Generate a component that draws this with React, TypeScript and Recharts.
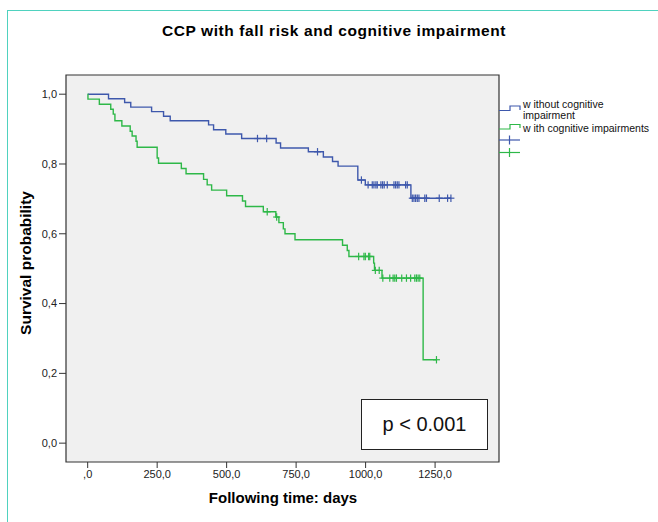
import { ComposedChart, Line, Scatter, XAxis, YAxis, ReferenceArea, Label } from 'recharts'

// Kaplan-Meier steps (time in days, survival after the drop)
const withoutTimes = [0, 75, 133, 155, 230, 273, 297, 435, 453, 497, 554, 678, 694, 794, 848, 881, 901, 972, 999, 1163, 1307]
const withoutSurv = [1.0, 0.987, 0.976, 0.963, 0.95, 0.937, 0.924, 0.912, 0.898, 0.886, 0.873, 0.86, 0.846, 0.835, 0.82, 0.807, 0.794, 0.754, 0.74, 0.702, 0.702]
const withoutCensored = [
  611, 644, 827, 985, 1009, 1024, 1030, 1037, 1042, 1055, 1061, 1067, 1078, 1102, 1108, 1114, 1120, 1144, 1150, 1168,
  1174, 1180, 1186, 1192, 1213, 1219, 1265, 1295, 1307,
]

const withTimes = [
  0, 1, 42, 83, 92, 98, 123, 153, 160, 174, 178, 250, 255, 337, 354, 417, 430, 446, 500, 557, 568, 632, 677, 688, 704,
  710, 746, 917, 934, 940, 1029, 1032, 1059, 1207, 1255,
]
const withSurv = [
  1.0, 0.986, 0.971, 0.957, 0.943, 0.924, 0.909, 0.894, 0.88, 0.865, 0.848, 0.817, 0.802, 0.787, 0.772, 0.756, 0.74,
  0.725, 0.709, 0.694, 0.678, 0.663, 0.648, 0.632, 0.614, 0.6, 0.583, 0.567, 0.552, 0.535, 0.516, 0.495, 0.473, 0.239,
  0.239,
]
const withCensored = [646, 680, 975, 994, 999, 1011, 1015, 1035, 1049, 1062, 1087, 1099, 1105, 1111, 1130, 1147, 1162, 1177, 1183, 1189, 1195, 1255]

const xTicks = [0, 250, 500, 750, 1000, 1250]
const yTicks = [0, 0.2, 0.4, 0.6, 0.8, 1.0]
const xDomain = [-78, 1480]
const yDomain = [-0.054, 1.055]

const BLUE = '#3e58ac'
const GREEN = '#2eb848'
const FONT = '"Liberation Sans", Arial, sans-serif'

function toSteps(times: number[], surv: number[]) {
  return times.map((t, i) => ({ t, s: surv[i] }))
}

// censored cases sit on the current step level
function toCensor(censored: number[], times: number[], surv: number[]) {
  return censored.map((t) => {
    let s = surv[0]
    times.forEach((st, i) => {
      if (st <= t) s = surv[i]
    })
    return { t, s }
  })
}

const withoutData = toSteps(withoutTimes, withoutSurv)
const withData = toSteps(withTimes, withSurv)
const withoutMarks = toCensor(withoutCensored, withoutTimes, withoutSurv)
const withMarks = toCensor(withCensored, withTimes, withSurv)

const plus = (color: string) => (props: any) => {
  const { cx, cy } = props
  return (
    <g stroke={color} strokeWidth={1.2}>
      <line x1={cx - 3.5} x2={cx + 3.5} y1={cy} y2={cy} />
      <line x1={cx} x2={cx} y1={cy - 3.7} y2={cy + 3.7} />
    </g>
  )
}

const fmtX = (v: number) => (v === 0 ? ',0' : `${v},0`)
const fmtY = (v: number) => v.toFixed(1).replace('.', ',')

function LegendBox() {
  const txt = { fontFamily: FONT, fontSize: 10.5, fill: '#111' }
  return (
    <svg width={160} height={70} style={{ position: 'absolute', left: 498, top: 98 }}>
      <path d="M1,12.5 H12 V8 H22 V12" fill="none" stroke={BLUE} strokeWidth={1.2} />
      <text x={25} y={10} {...txt}>w ithout cognitive</text>
      <text x={25} y={21.3} {...txt}>impairment</text>
      <path d="M1,31 H12 V26.5 H22 V30" fill="none" stroke={GREEN} strokeWidth={1.2} />
      <text x={25} y={34} {...txt}>w ith cognitive impairments</text>
      <line x1={1} x2={22} y1={42} y2={42} stroke={BLUE} strokeWidth={1.2} />
      <line x1={11.5} x2={11.5} y1={37.5} y2={46.5} stroke={BLUE} strokeWidth={1.2} />
      <line x1={1} x2={22} y1={54.5} y2={54.5} stroke={GREEN} strokeWidth={1.2} />
      <line x1={11.5} x2={11.5} y1={50} y2={59} stroke={GREEN} strokeWidth={1.2} />
    </svg>
  )
}

export default function App() {
  return (
    <div style={{ position: 'absolute', left: 0, top: 0, width: 658, height: 522, background: '#fff', overflow: 'hidden' }}>
      <div
        style={{
          position: 'absolute',
          left: 7,
          top: 10,
          width: 700,
          height: 600,
          borderTop: '1.5px solid #4fd2bf',
          borderLeft: '1.5px solid #4fd2bf',
        }}
      />
      <div
        style={{
          position: 'absolute',
          left: 0,
          width: 668,
          top: 22,
          textAlign: 'center',
          fontFamily: FONT,
          fontWeight: 'bold',
          fontSize: 15.5,
          letterSpacing: 0.6,
          color: '#000',
        }}
      >
        CCP with fall risk and cognitive impairment
      </div>
      <ComposedChart
        width={658}
        height={522}
        margin={{ top: 75, right: 159, bottom: 0, left: 0 }}
        style={{ position: 'absolute', left: 0, top: 0 }}
      >
        <ReferenceArea
          x1={xDomain[0]}
          x2={xDomain[1]}
          y1={yDomain[0]}
          y2={yDomain[1]}
          fill="#f0f0f0"
          fillOpacity={1}
          stroke="#333"
          strokeWidth={1.2}
          ifOverflow="extendDomain"
        />
        <XAxis
          type="number"
          dataKey="t"
          domain={xDomain}
          ticks={xTicks}
          tickFormatter={fmtX}
          allowDataOverflow
          height={60}
          tickSize={6}
          tickMargin={2}
          axisLine={false}
          tickLine={{ stroke: '#333' }}
          tick={{ fill: '#222', fontSize: 11, fontFamily: FONT }}
        >
          <Label
            content={() => (
              <text x={283} y={503} textAnchor="middle" fontFamily={FONT} fontWeight="bold" fontSize={15} fill="#000">
                Following time: days
              </text>
            )}
          />
        </XAxis>
        <YAxis
          type="number"
          dataKey="s"
          domain={yDomain}
          ticks={yTicks}
          tickFormatter={fmtY}
          allowDataOverflow
          width={66}
          tickSize={7}
          tickMargin={2}
          axisLine={false}
          tickLine={{ stroke: '#333' }}
          tick={{ fill: '#222', fontSize: 11, fontFamily: FONT }}
        >
          <Label
            content={() => (
              <text
                x={30.5}
                y={263}
                transform="rotate(-90 30.5 263)"
                textAnchor="middle"
                fontFamily={FONT}
                fontWeight="bold"
                fontSize={15.5}
                fill="#000"
              >
                Survival probability
              </text>
            )}
          />
        </YAxis>
        <Line data={withoutData} dataKey="s" type="stepAfter" stroke={BLUE} strokeWidth={1.4} dot={false} isAnimationActive={false} />
        <Line data={withData} dataKey="s" type="stepAfter" stroke={GREEN} strokeWidth={1.4} dot={false} isAnimationActive={false} />
        <Scatter data={withoutMarks} dataKey="s" shape={plus(BLUE)} isAnimationActive={false} />
        <Scatter data={withMarks} dataKey="s" shape={plus(GREEN)} isAnimationActive={false} />
      </ComposedChart>
      <LegendBox />
      <div
        style={{
          position: 'absolute',
          left: 361,
          top: 399,
          width: 125,
          height: 49,
          border: '1.5px solid #222',
          background: '#fff',
          display: 'flex',
          alignItems: 'center',
          justifyContent: 'center',
          fontFamily: FONT,
          fontSize: 20,
          color: '#111',
        }}
      >
        p &lt; 0.001
      </div>
    </div>
  )
}
